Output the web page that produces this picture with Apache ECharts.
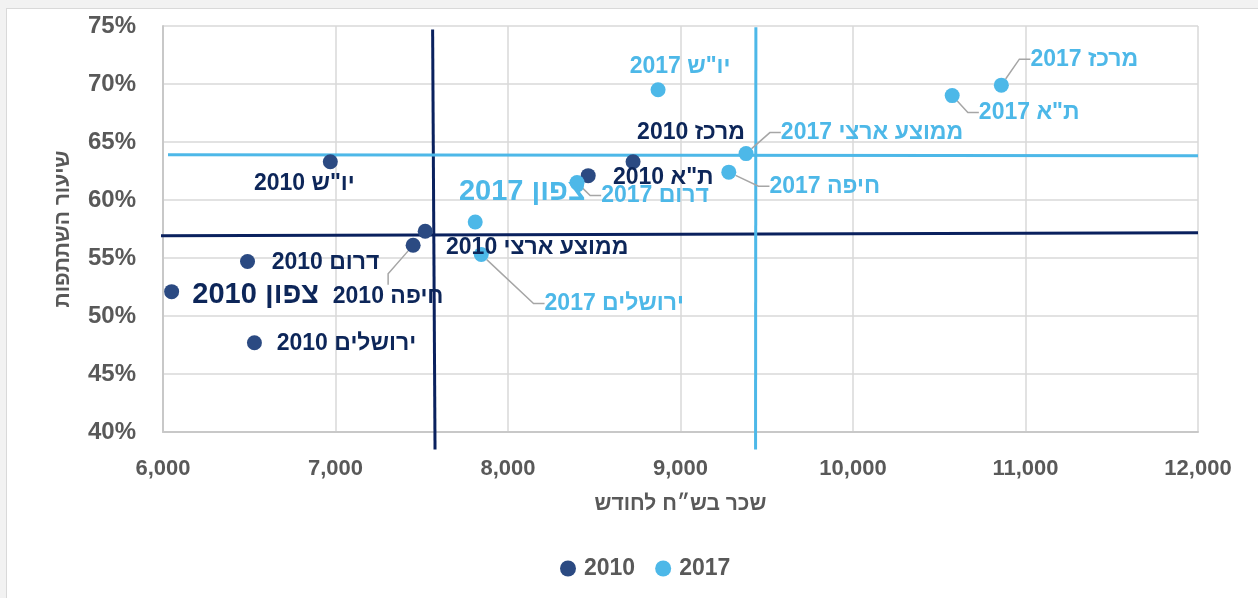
<!DOCTYPE html>
<html>
<head>
<meta charset="utf-8">
<script src="https://cdn.jsdelivr.net/npm/echarts@6/dist/echarts.min.js"></script>
<style>
	html, body { margin: 0; padding: 0; background: #f2f2f2; }
	.frame { position: absolute; left: 6px; top: 8px; width: 1252px; height: 590px; background: #fff; border-left: 1px solid #d9d9d9; border-top: 1px solid #d9d9d9; box-sizing: border-box; }
	#chart { position: absolute; left: 0; top: 0; width: 1258px; height: 598px; }
	#chart canvas { direction: rtl; }
</style>
</head>
<body>
<div class="frame"></div>
<div id="chart" dir="rtl"></div>
<script>
	// נתונים
	const regions2010 = ['יו"ש', 'דרום', 'צפון', 'ירושלים', 'חיפה', 'ממוצע ארצי', 'ת"א', 'מרכז']
	const wage2010 = [6970, 6490, 6050, 6530, 7450, 7520, 8465, 8725]
	const rate2010 = [63.3, 54.7, 52.1, 47.7, 56.1, 57.3, 62.1, 63.3]

	const regions2017 = ['יו"ש', 'מרכז', 'ת"א', 'ממוצע ארצי', 'חיפה', 'דרום', 'צפון', 'ירושלים']
	const wage2017 = [8870, 10860, 10575, 9380, 9280, 8400, 7810, 7845]
	const rate2017 = [69.5, 69.9, 69.0, 64.0, 62.4, 61.5, 58.1, 55.3]

	// קווי ממוצע
	const avg2010H = [[5983, 56.92], [12000, 57.18]]
	const avg2010V = [[7563, 74.7], [7577, 38.5]]
	const avg2017H = [[6029, 63.91], [12000, 63.82]]
	const avg2017V = [[9437, 74.9], [9435, 38.5]]

	const xTicks = [6000, 7000, 8000, 9000, 10000, 11000, 12000]
	const yTicks = [40, 45, 50, 55, 60, 65, 70, 75]

	// label placement (offset from the point, px) - not data
	const shift2010 = [[-26, 22], [78, 1], [84, 3], [92, 1], [-25, 51], [112, 16], [75, 2], [58, -29]]
	const guide2010 = [false, false, false, false, true, false, false, false]
	const big2010 = [false, false, true, false, false, false, false, false]
	const shift2017 = [[22, -23], [83, -26], [77, 17], [126, -21], [96, 14], [78, 13], [47, -30], [133, 49]]
	const guide2017 = [false, true, true, true, true, true, false, true]
	const big2017 = [false, false, false, false, false, false, true, false]

	const FONT = "'Liberation Sans', 'DejaVu Sans', sans-serif"
	const DARK = '#2B4A82'
	const DARK_TEXT = '#0D2659'
	const DARK_LINE = '#0A215E'
	const LIGHT = '#4DB8E8'
	const GREY = '#595959'

	function points(names, xs, ys, guides, bigs) {
		return names.map((n, i) => {
			const item = { name: n, value: [xs[i], ys[i]] }
			if (guides[i]) item.labelLine = { show: true }
			if (bigs[i]) item.label = { fontSize: 29 }
			return item
		})
	}

	function scatter(year, color, textColor, names, xs, ys, shifts, guides, bigs) {
		return {
			name: year,
			type: 'scatter',
			symbolSize: 15,
			itemStyle: { color: color, opacity: 1 },
			data: points(names, xs, ys, guides, bigs),
			z: 5,
			label: {
				show: true,
				position: 'inside',
				formatter: p => p.name + ' ' + year,
				color: textColor,
				fontFamily: FONT,
				fontWeight: 'bold',
				fontSize: 23
			},
			labelLine: {
				show: false,
				length2: 11,
				lineStyle: { color: '#A6A6A6', width: 1.5 }
			},
			labelLayout: params => ({ dx: shifts[params.dataIndex][0], dy: shifts[params.dataIndex][1] })
		}
	}

	function avgLine(name, data, color) {
		return {
			name: name,
			type: 'line',
			data: data,
			showSymbol: false,
			clip: false,
			silent: true,
			z: 3,
			lineStyle: { color: color, width: 3 }
		}
	}

	const chart = echarts.init(document.getElementById('chart'))
	const option = {
		animation: false,
		textStyle: { fontFamily: FONT },
		grid: { left: 163, right: 60, top: 26, bottom: 166 },
		legend: {
			data: ['2010', '2017'],
			left: 555,
			top: 552,
			icon: 'circle',
			itemWidth: 16,
			itemHeight: 16,
			itemGap: 20,
			textStyle: { color: GREY, fontFamily: FONT, fontWeight: 'bold', fontSize: 23, padding: [0, 0, 0, 3] }
		},
		xAxis: {
			type: 'value',
			min: xTicks[0],
			max: xTicks[xTicks.length - 1],
			interval: 1000,
			name: 'שכר בש״ח לחודש',
			nameLocation: 'middle',
			nameGap: 62,
			nameTextStyle: { color: GREY, fontFamily: FONT, fontWeight: 'bold', fontSize: 21 },
			axisLine: { show: true, lineStyle: { color: '#C8C8C8', width: 2 } },
			axisTick: { show: false },
			splitLine: { show: true, lineStyle: { color: '#D9D9D9', width: 1.5 } },
			axisLabel: {
				margin: 26,
				color: GREY,
				fontFamily: FONT,
				fontWeight: 'bold',
				fontSize: 22,
				formatter: v => v.toLocaleString('en-US')
			}
		},
		yAxis: {
			type: 'value',
			min: yTicks[0],
			max: yTicks[yTicks.length - 1],
			interval: 5,
			name: 'שיעור השתתפות',
			nameLocation: 'middle',
			nameGap: 89,
			nameTextStyle: { color: GREY, fontFamily: FONT, fontWeight: 'bold', fontSize: 21 },
			axisLine: { show: true, lineStyle: { color: '#C8C8C8', width: 2 } },
			axisTick: { show: false },
			splitLine: { show: true, lineStyle: { color: '#D9D9D9', width: 1.5 } },
			axisLabel: {
				margin: 27,
				color: GREY,
				fontFamily: FONT,
				fontWeight: 'bold',
				fontSize: 24,
				formatter: '{value}%'
			}
		},
		series: [
			avgLine('avg2010h', avg2010H, DARK_LINE),
			avgLine('avg2010v', avg2010V, DARK_LINE),
			avgLine('avg2017h', avg2017H, LIGHT),
			avgLine('avg2017v', avg2017V, LIGHT),
			scatter('2010', DARK, DARK_TEXT, regions2010, wage2010, rate2010, shift2010, guide2010, big2010),
			scatter('2017', LIGHT, LIGHT, regions2017, wage2017, rate2017, shift2017, guide2017, big2017)
		]
	}
	chart.setOption(option)
</script>
</body>
</html>
